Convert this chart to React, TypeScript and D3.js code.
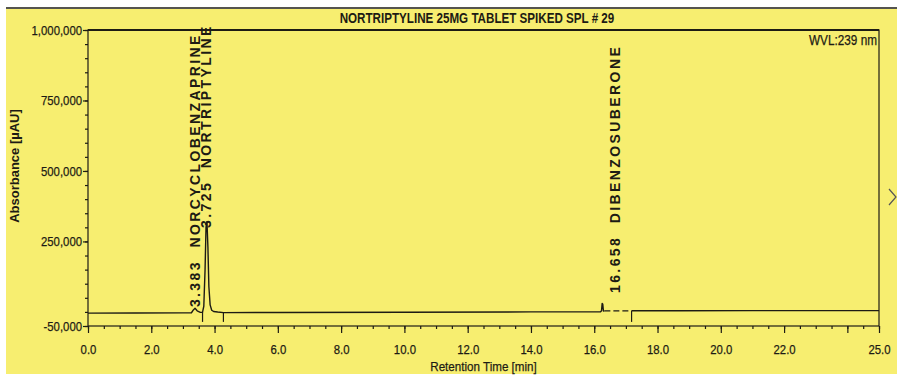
import { useEffect, useRef } from "react";
import * as d3 from "d3";

const TITLE = "NORTRIPTYLINE 25MG TABLET SPIKED SPL # 29";
const WAVELENGTH = "WVL:239 nm";
const X_TITLE = "Retention Time [min]";
const Y_TITLE = "Absorbance [µAU]";

// trace: retention time (min) / absorbance (µAU)
const TIME = [
  0, 1.5, 3.0, 3.27, 3.33, 3.383, 3.45, 3.55, 3.62, 3.66, 3.7, 3.73, 3.76, 3.79, 3.82, 3.86, 3.91,
  3.97, 4.1, 4.28, 6.0, 10.0, 14.0, 16.2, 16.23, 16.25, 16.27, 16.29, 16.32, 17.18, 17.2, 18.7, 21.0, 25.0,
];
const ABSORBANCE = [
  -4500, -4000, -3500, -3000, 7000, 13000, 4000, -1500, -1000, 20000, 150000, 300000, 320000, 230000,
  90000, 25000, 6000, 1500, -500, -2500, -2000, -1000, 0, 500, 4000, 30000, 27000, 3000, 3500, 3500,
  4500, 4000, 4500, 4500,
];

// part of the trace the scan shows broken
const DASHED_FROM = 16.32;
const DASHED_TO = 17.18;

// peak delimiters (min)
const DELIMITERS = [3.62, 4.28, 17.18];

const PEAK_RT = [3.383, 3.725, 16.658];
const PEAK_NAME = ["NORCYCLOBENZAPRINE", "NORTRIPTYLINE", "DIBENZOSUBERONE"];
const PEAK_LABEL_AT = [17000, 298000, 67000]; // µAU where each label starts

const Y_TICKS = [-50000, 250000, 500000, 750000, 1000000];
const X_MAJOR = [0, 2, 4, 6, 8, 10, 12, 14, 16, 18, 20, 22, 24, 25];
const X_LABELS = [0, 2, 4, 6, 8, 10, 12, 14, 16, 18, 20, 22, 25];

const INK = "#1d1b14";
const FONT = "'Liberation Sans', Arial, sans-serif";

// the printout uses a narrow face; squeeze the regular one to match
function condense(sel: any, k: number) {
  sel.each(function (this: SVGTextElement) {
    const len = this.getComputedTextLength();
    if (len > 0) {
      this.setAttribute("textLength", String(len * k));
      this.setAttribute("lengthAdjust", "spacingAndGlyphs");
    }
  });
}

export default function App() {
  const svgRef = useRef<SVGSVGElement>(null);

  useEffect(() => {
    if (!svgRef.current) return;
    const svg = d3.select(svgRef.current);
    svg.selectAll("*").remove();

    const width = 900;
    const height = 376;
    const margin = { top: 30, right: 21, bottom: 50, left: 88 };

    const x = d3.scaleLinear().domain([0, 25]).range([margin.left, width - margin.right]);
    const y = d3.scaleLinear().domain([-50000, 1000000]).range([height - margin.bottom, margin.top]);

    // paper
    svg.append("rect").attr("width", width).attr("height", height).attr("fill", "#fff");
    svg.append("rect").attr("x", 6).attr("y", 9).attr("width", 891).attr("height", 365).attr("fill", "#f7ee70");
    svg.append("line").attr("x1", 6).attr("x2", 897).attr("y1", 8).attr("y2", 8).attr("stroke", INK).attr("stroke-width", 1.5);

    svg.append("text")
      .attr("x", 477).attr("y", 23)
      .attr("text-anchor", "middle")
      .attr("font-family", FONT).attr("font-weight", "bold").attr("font-size", 14)
      .attr("fill", INK)
      .text(TITLE)
      .call(condense, 0.83);

    // frame
    svg.append("rect")
      .attr("x", margin.left).attr("y", margin.top)
      .attr("width", width - margin.left - margin.right)
      .attr("height", height - margin.top - margin.bottom)
      .attr("fill", "none").attr("stroke", INK).attr("stroke-width", 1.2);
    svg.append("line")
      .attr("x1", margin.left).attr("x2", width - margin.right)
      .attr("y1", margin.top).attr("y2", margin.top)
      .attr("stroke", INK).attr("stroke-width", 2);

    const styleAxis = (g: any) => {
      g.select(".domain").remove();
      g.selectAll(".tick line").attr("stroke", INK).attr("stroke-width", 1.2);
      g.selectAll(".tick text")
        .attr("fill", INK)
        .attr("font-family", FONT)
        .attr("font-size", 13.5)
        .attr("stroke", INK)
        .attr("stroke-width", 0.25)
        .call(condense, 0.84);
    };

    // X axis
    svg.append("g")
      .attr("transform", `translate(0,${height - margin.bottom})`)
      .call(d3.axisBottom(x).tickValues(d3.range(0, 25.01, 0.5)).tickSize(3).tickFormat(() => ""))
      .call(styleAxis);
    svg.append("g")
      .attr("transform", `translate(0,${height - margin.bottom})`)
      .call(
        d3.axisBottom(x)
          .tickValues(X_MAJOR)
          .tickSize(7)
          .tickPadding(11)
          .tickFormat((d) => (X_LABELS.includes(+d) ? (+d).toFixed(1) : ""))
      )
      .call(styleAxis);

    // Y axis
    svg.append("g")
      .attr("transform", `translate(${margin.left},0)`)
      .call(d3.axisLeft(y).tickValues(d3.range(-50000, 1000001, 50000)).tickSize(3).tickFormat(() => ""))
      .call(styleAxis);
    svg.append("g")
      .attr("transform", `translate(${margin.left},0)`)
      .call(
        d3.axisLeft(y)
          .tickValues(Y_TICKS)
          .tickSize(5)
          .tickPadding(1)
          .tickFormat((d) => d3.format(",")(+d).replace("−", "-"))
      )
      .call(styleAxis);

    svg.append("text")
      .attr("x", (margin.left + width - margin.right) / 2)
      .attr("y", 371)
      .attr("text-anchor", "middle")
      .attr("font-family", FONT).attr("font-size", 13.5)
      .attr("fill", INK).attr("stroke", INK).attr("stroke-width", 0.25)
      .text(X_TITLE)
      .call(condense, 0.86);

    svg.append("text")
      .attr("transform", "translate(18.5,166) rotate(-90)")
      .attr("text-anchor", "middle")
      .attr("font-family", FONT).attr("font-weight", "bold").attr("font-size", 13)
      .attr("fill", INK)
      .text(Y_TITLE);

    svg.append("text")
      .attr("x", width - margin.right - 2).attr("y", 45)
      .attr("text-anchor", "end")
      .attr("font-family", FONT).attr("font-size", 14)
      .attr("fill", INK).attr("stroke", INK).attr("stroke-width", 0.25)
      .text(WAVELENGTH)
      .call(condense, 0.84);

    // trace
    const points = TIME.map((t, i) => ({ t, v: ABSORBANCE[i] }));
    const line = d3.line<(typeof points)[0]>()
      .x((d) => x(d.t))
      .y((d) => y(d.v));

    const solid = [
      points.filter((p) => p.t <= DASHED_FROM),
      points.filter((p) => p.t >= DASHED_TO),
    ];
    svg.selectAll(".trace")
      .data(solid)
      .join("path")
      .attr("class", "trace")
      .attr("fill", "none")
      .attr("stroke", INK)
      .attr("stroke-width", 1.4)
      .attr("stroke-linejoin", "round")
      .attr("d", line);

    svg.append("path")
      .datum(points.filter((p) => p.t >= DASHED_FROM && p.t <= DASHED_TO))
      .attr("fill", "none")
      .attr("stroke", INK)
      .attr("stroke-width", 1.3)
      .attr("stroke-dasharray", "6,3")
      .attr("d", line);

    // peak delimiters
    const valueAt = (t: number) => {
      const i = d3.bisectLeft(TIME, t);
      return ABSORBANCE[Math.min(i, ABSORBANCE.length - 1)];
    };
    svg.selectAll(".delim")
      .data(DELIMITERS)
      .join("line")
      .attr("class", "delim")
      .attr("x1", (d) => x(d)).attr("x2", (d) => x(d))
      .attr("y1", (d) => y(valueAt(d)))
      .attr("y2", y(0) + 10)
      .attr("stroke", INK)
      .attr("stroke-width", 1.2);

    // peak labels
    svg.selectAll(".peak-label")
      .data(PEAK_RT)
      .join("text")
      .attr("class", "peak-label")
      .attr("transform", (d, i) => `translate(${x(d) + 5},${y(PEAK_LABEL_AT[i])}) rotate(-90)`)
      .attr("font-family", FONT)
      .attr("font-weight", "bold")
      .attr("font-size", 14)
      .attr("letter-spacing", 2.4)
      .attr("fill", INK)
      .style("white-space", "pre")
      .text((d, i) => `${d.toFixed(3)}  ${PEAK_NAME[i]}`);

    // scroll chevron at the right edge
    svg.append("path")
      .attr("d", "M889,189 L896,197 L889,205")
      .attr("fill", "none")
      .attr("stroke", "#555")
      .attr("stroke-width", 1.2);
  }, []);

  return (
    <div style={{ position: "absolute", left: 0, top: 0 }}>
      <svg ref={svgRef} width={900} height={376} style={{ display: "block" }} />
    </div>
  );
}
